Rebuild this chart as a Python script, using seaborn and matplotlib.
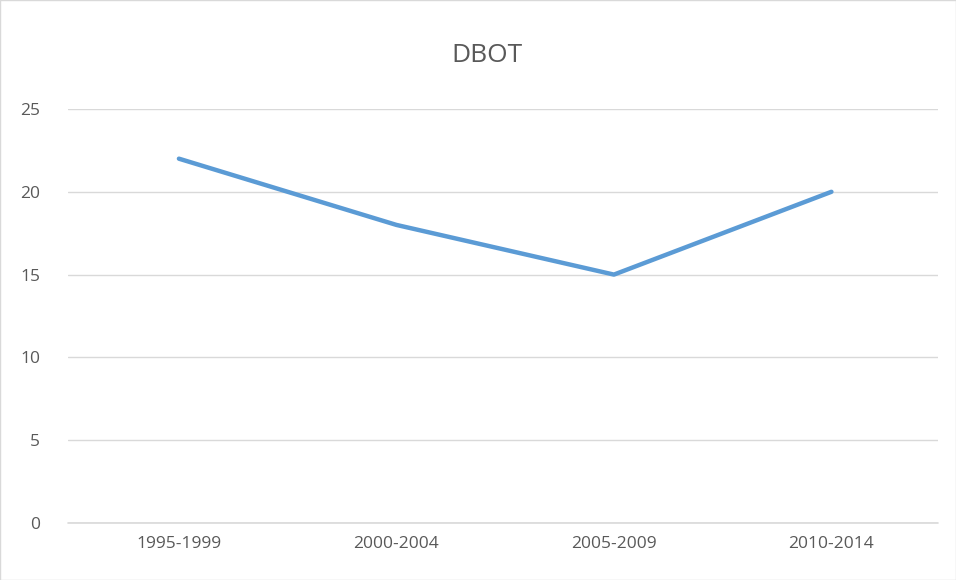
import matplotlib
matplotlib.use("Agg")
import matplotlib.pyplot as plt
import pandas as pd
import seaborn as sns
from matplotlib.patches import Rectangle

periods = ["1995-1999", "2000-2004", "2005-2009", "2010-2014"]
dbot = [22, 18, 15, 20]

df = pd.DataFrame({"period": periods, "value": dbot})

sns.set_theme(style="white")
plt.rcParams["font.family"] = ["Open Sans", "DejaVu Sans"]

fig = plt.figure(figsize=(9.56, 5.80), dpi=100)
ax = fig.add_axes([68 / 956, 1 - 523 / 580, (938 - 68) / 956, (523 - 109) / 580])

sns.lineplot(data=df, x="period", y="value", ax=ax, color="#5B9BD5",
             linewidth=3.2, sort=False)

ax.set_xlim(-0.51, 3.49)
ax.set_ylim(0, 25)
ax.set_yticks([0, 5, 10, 15, 20, 25])
ax.grid(axis="y", color="#D9D9D9", linewidth=1)
ax.axhline(0, color="#D9D9D9", linewidth=1.2, clip_on=False, zorder=0)
ax.set_axisbelow(True)
for s in ax.spines.values():
    s.set_visible(False)
ax.tick_params(axis="both", length=0, labelsize=12.5, colors="#595959")
ax.tick_params(axis="y", pad=20)
ax.tick_params(axis="x", pad=9)
ax.set_xlabel("")
ax.set_ylabel("")

fig.text(0.509, 1 - 55 / 580, "DBOT", ha="center", va="center",
         fontsize=19, color="#595959")

fig.patches.append(Rectangle((0.0005, 0.0005), 0.999, 0.999, transform=fig.transFigure,
                             fill=False, edgecolor="#D9D9D9", linewidth=1))

fig.savefig("out.png", dpi=100)
